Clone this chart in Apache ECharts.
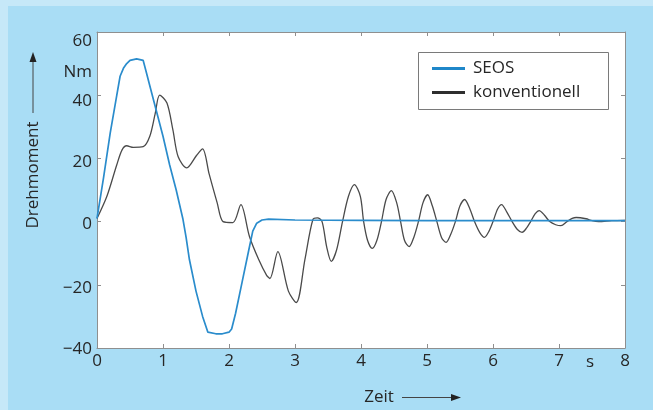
<!DOCTYPE html>
<html>
<head>
<meta charset="utf-8">
<script src="https://cdn.jsdelivr.net/npm/echarts@6/dist/echarts.min.js"></script>
<style>
  html, body { margin: 0; padding: 0; background: #a9ddf5; overflow: hidden; }
  #chart { position: absolute; left: 0; top: 0; width: 653px; height: 410px; }
  .edge { position: absolute; background: #c6e8f8; }
</style>
</head>
<body>
<div class="edge" style="left:0;top:0;width:8px;height:410px"></div>
<div class="edge" style="left:0;top:0;width:653px;height:6px"></div>
<div id="chart"></div>
<script>
// Zeit in s
const xTicks = [0, 1, 2, 3, 4, 5, 6, 7, 8];
const yTicks = [-40, -20, 0, 20, 40, 60];

// SEOS: [Zeit, Drehmoment]
const seosT = [0, 0.1, 0.2, 0.3, 0.35, 0.4, 0.45, 0.5, 0.6, 0.7, 0.75, 0.8, 0.9, 1.0, 1.1, 1.2, 1.3, 1.35, 1.4, 1.5, 1.6, 1.68, 1.8, 1.9, 2.0, 2.04, 2.1, 2.2, 2.3, 2.36, 2.42, 2.5, 2.6, 3, 4, 5, 6, 7, 8];
const seosM = [1, 14, 28, 40, 46, 48.5, 50, 51, 51.5, 51, 47, 43, 35, 27, 18, 10, 1, -5, -12, -22, -30, -35, -35.5, -35.5, -35, -34, -29, -19, -9, -3, -0.5, 0.5, 0.8, 0.5, 0.4, 0.3, 0.3, 0.3, 0.3];

// konventionell: [Zeit, Drehmoment]
const konvT = [0, 0.15, 0.3, 0.38, 0.45, 0.55, 0.7, 0.8, 0.88, 0.95, 1.06, 1.15, 1.23, 1.36, 1.51, 1.6, 1.7, 1.82, 1.91, 2.06, 2.18, 2.31, 2.45, 2.57, 2.62, 2.74, 2.9, 3.02, 3.15, 3.27, 3.34, 3.41, 3.48, 3.55, 3.63, 3.72, 3.81, 3.9, 3.99, 4.04, 4.1, 4.17, 4.24, 4.31, 4.38, 4.46, 4.54, 4.6, 4.66, 4.73, 4.8, 4.87, 4.94, 5.01, 5.08, 5.15, 5.22, 5.29, 5.36, 5.43, 5.5, 5.57, 5.65, 5.72, 5.8, 5.87, 5.94, 6.0, 6.07, 6.13, 6.21, 6.29, 6.37, 6.44, 6.51, 6.57, 6.64, 6.7, 6.78, 6.86, 6.95, 7.03, 7.12, 7.2, 7.26, 7.41, 7.5, 7.6, 7.8, 8];
const konvM = [1, 8, 18, 22.7, 24, 23.5, 23.7, 27, 34, 40, 37.5, 29, 20.5, 17, 21, 23, 15, 6, 0, -0.3, 5.4, -4.7, -12, -17, -18, -9.5, -22, -25.6, -12, 0.6, 1.2, 0, -8, -12.6, -9, 0, 8, 11.7, 8, 0, -6, -8.5, -6, 0, 7, 9.8, 6, 0, -6, -7.9, -5, 0, 6, 8.5, 5, 0, -5, -6.6, -4, 0, 5, 7, 4, 0, -3.5, -5, -3, 0, 4, 5.4, 3, 0, -2.5, -3.4, -2, 0, 2.5, 3.5, 2, 0, -1, -1.3, 0, 1, 1.3, 0.9, 0.3, 0, 0.3, 0.4];

const seosData = seosT.map((t, i) => [t, seosM[i]]);
const konvData = konvT.map((t, i) => [t, konvM[i]]);

const font = 'Open Sans';
const fs = 17;
const grey = '#8f8f8f';
const ink = '#262626';
const css = fs + 'px "Open Sans"';

// Beschriftungen der y-Achse sitzen im Original etwas tiefer
const yShift = { '60': 9, '40': 6, '20': 4, '0': 3, '-20': 3, '-40': 1 };
const yRich = {};
yTicks.forEach((v, i) => {
  yRich['t' + i] = { fontFamily: font, fontSize: fs, color: ink, padding: [2 * yShift[v], 0, 0, 0] };
});

const chart = echarts.init(document.getElementById('chart'));

chart.setOption({
  backgroundColor: 'transparent',
  animation: false,
  grid: { left: 97, right: 28, top: 32, bottom: 62, show: true, backgroundColor: '#fff', borderWidth: 0 },
  graphic: [
    // Legendenrahmen
    { type: 'rect', z: 5, shape: { x: 418.5, y: 52.5, width: 190, height: 57 }, style: { fill: '#fff', stroke: '#7a7a7a', lineWidth: 1 } },
    { type: 'text', z: 5, x: 92, y: 72, style: { text: 'Nm', font: css, fill: ink, align: 'right', verticalAlign: 'middle' } },
    { type: 'text', z: 5, x: 590, y: 362, style: { text: 's', font: css, fill: ink, align: 'center', verticalAlign: 'middle' } },
    { type: 'text', z: 5, x: 33, y: 175, rotation: Math.PI / 2, style: { text: 'Drehmoment', font: css, fill: ink, align: 'center', verticalAlign: 'middle' } },
    { type: 'line', z: 5, shape: { x1: 33, y1: 113, x2: 33, y2: 60 }, style: { stroke: '#444', lineWidth: 1 } },
    { type: 'polygon', z: 5, shape: { points: [[33, 52], [29.5, 62], [36.5, 62]] }, style: { fill: '#222' } },
    { type: 'text', z: 5, x: 379, y: 397, style: { text: 'Zeit', font: css, fill: ink, align: 'center', verticalAlign: 'middle' } },
    { type: 'line', z: 5, shape: { x1: 402, y1: 397.5, x2: 452, y2: 397.5 }, style: { stroke: '#444', lineWidth: 1 } },
    { type: 'polygon', z: 5, shape: { points: [[461, 397.5], [451, 394], [451, 401]] }, style: { fill: '#222' } }
  ],
  legend: {
    left: 432, top: 60, orient: 'vertical',
    padding: 0,
    itemGap: 7,
    itemWidth: 33, itemHeight: 3,
    icon: 'rect',
    z: 10,
    textStyle: { fontFamily: font, fontSize: fs, color: ink, padding: [0, 0, 0, 3] },
    data: ['SEOS', 'konventionell']
  },
  xAxis: [
    {
      type: 'value', min: 0, max: 8, interval: 1,
      axisLine: { onZero: false, lineStyle: { color: grey } },
      axisTick: { inside: true, length: 4, lineStyle: { color: grey } },
      axisLabel: { fontFamily: font, fontSize: fs, color: ink, margin: 5 },
      splitLine: { show: false }
    },
    {
      type: 'value', position: 'top', min: 0, max: 8, interval: 1,
      axisLine: { onZero: false, lineStyle: { color: grey } },
      axisTick: { inside: true, length: 4, lineStyle: { color: grey } },
      axisLabel: { show: false },
      splitLine: { show: false }
    }
  ],
  yAxis: [
    {
      type: 'value', min: -40, max: 60, interval: 20,
      axisLine: { show: true, onZero: false, lineStyle: { color: grey } },
      axisTick: { show: true, inside: true, length: 4, lineStyle: { color: grey } },
      axisLabel: {
        margin: 5,
        formatter: v => {
          const i = yTicks.indexOf(v);
          const s = v < 0 ? '\u2212' + Math.abs(v) : String(v);
          return '{t' + i + '|' + s + '}';
        },
        rich: yRich
      },
      splitLine: { show: false }
    },
    {
      type: 'value', position: 'right', min: -40, max: 60, interval: 20,
      axisLine: { show: true, onZero: false, lineStyle: { color: grey } },
      axisTick: { show: true, inside: true, length: 4, lineStyle: { color: grey } },
      axisLabel: { show: false },
      splitLine: { show: false }
    }
  ],
  series: [
    {
      name: 'konventionell', type: 'line', data: konvData, smooth: 0.3,
      showSymbol: false, color: '#2e2e2e',
      lineStyle: { color: '#4a4a4a', width: 1.3 }, z: 2
    },
    {
      name: 'SEOS', type: 'line', data: seosData,
      showSymbol: false, color: '#1f87c9',
      lineStyle: { color: '#2a8ccc', width: 1.7 }, z: 3
    }
  ]
});
</script>
</body>
</html>
